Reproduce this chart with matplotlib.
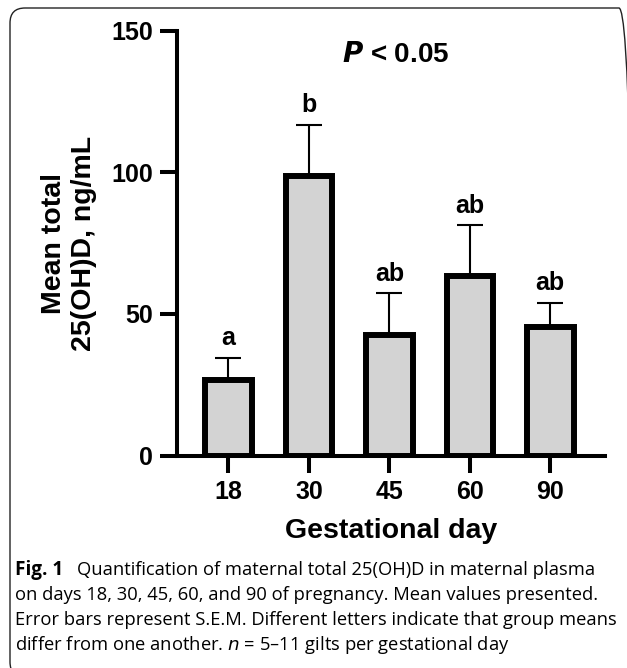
import matplotlib
matplotlib.use("Agg")
import matplotlib.pyplot as plt
from matplotlib.patches import FancyBboxPatch

days = ["18", "30", "45", "60", "90"]
means = [26.6, 98.6, 42.5, 63.3, 45.3]
sem = [7.8, 18.0, 14.8, 18.0, 8.5]
letters = ["a", "b", "ab", "ab", "ab"]

BAR_FILL = "#d3d3d3"
W, H, DPI = 627, 668, 100

fig = plt.figure(figsize=(W / DPI, H / DPI), dpi=DPI)
fig.patch.set_facecolor("white")

# rounded frame around the figure (runs just off the right and bottom edges)
frame = FancyBboxPatch((10 / W, -9 / H), 624 / W, (H - 8 + 9) / H,
                       boxstyle="round,pad=0,rounding_size=0.024",
                       transform=fig.transFigure, facecolor="none",
                       edgecolor="#222222", linewidth=1.0, mutation_aspect=W / H)
fig.patches.append(frame)

ax = fig.add_axes([177 / W, 1 - 455.5 / H, 428 / W, 425 / H])

x = list(range(len(days)))
ax.bar(x, means, width=0.58, color=BAR_FILL, edgecolor="black",
       linewidth=4.3, zorder=3)
ax.errorbar(x, means, yerr=[[0] * len(sem), sem], fmt="none", ecolor="black",
            elinewidth=1.5, capsize=9.4, capthick=1.5, zorder=2)

for xi, m, s, lab in zip(x, means, sem, letters):
    ax.annotate(lab, (xi, m + s), xytext=(0, 5.5), textcoords="offset points",
                ha="center", va="bottom", fontsize=18, fontweight="bold",
                family="Liberation Sans")

ax.set_xlim(-0.64, 4.68)
ax.set_ylim(0, 150)
ax.set_yticks([0, 50, 100, 150])
ax.set_xticks(x)
ax.set_xticklabels(days)
for lbl in ax.get_xticklabels() + ax.get_yticklabels():
    lbl.set_fontweight("bold")
    lbl.set_family("Liberation Sans")
ax.tick_params(axis="both", length=12.5, width=2.9, labelsize=18, pad=5)

for side in ["top", "right"]:
    ax.spines[side].set_visible(False)
for side in ["left", "bottom"]:
    ax.spines[side].set_linewidth(2.9)

ax.set_xlabel("Gestational day", fontsize=20.5, fontweight="bold",
              family="Liberation Sans", labelpad=10)
ax.set_ylabel("Mean total\n25(OH)D, ng/mL", fontsize=20.5, fontweight="bold",
              family="Liberation Sans", labelpad=10, linespacing=1.2)

ax.text(0.512, 0.942, r"$\bfit{P}$ < 0.05", transform=ax.transAxes, ha="center",
        va="center", fontsize=20, fontweight="bold", family="Liberation Sans")

# caption
cap_font = ["Open Sans", "DejaVu Sans"]
cap_size = 13.2
fig.text(15 / W, 1 - 575 / H, "Fig. 1", fontsize=cap_size + 0.4, fontweight="bold",
         family=cap_font, va="baseline")
fig.text(77 / W, 1 - 575 / H,
         "Quantification of maternal total 25(OH)D in maternal plasma",
         fontsize=cap_size, family=cap_font, va="baseline")
fig.text(15 / W, 1 - 600 / H,
         "on days 18, 30, 45, 60, and 90 of pregnancy. Mean values presented.",
         fontsize=cap_size, family=cap_font, va="baseline")
fig.text(15 / W, 1 - 625 / H,
         "Error bars represent S.E.M. Different letters indicate that group means",
         fontsize=cap_size, family=cap_font, va="baseline")
fig.text(15 / W, 1 - 650 / H,
         "differ from one another. $n$ = 5\u201311 gilts per gestational day",
         fontsize=cap_size, family=cap_font, va="baseline")

fig.savefig("out.png", dpi=DPI, facecolor="white")
